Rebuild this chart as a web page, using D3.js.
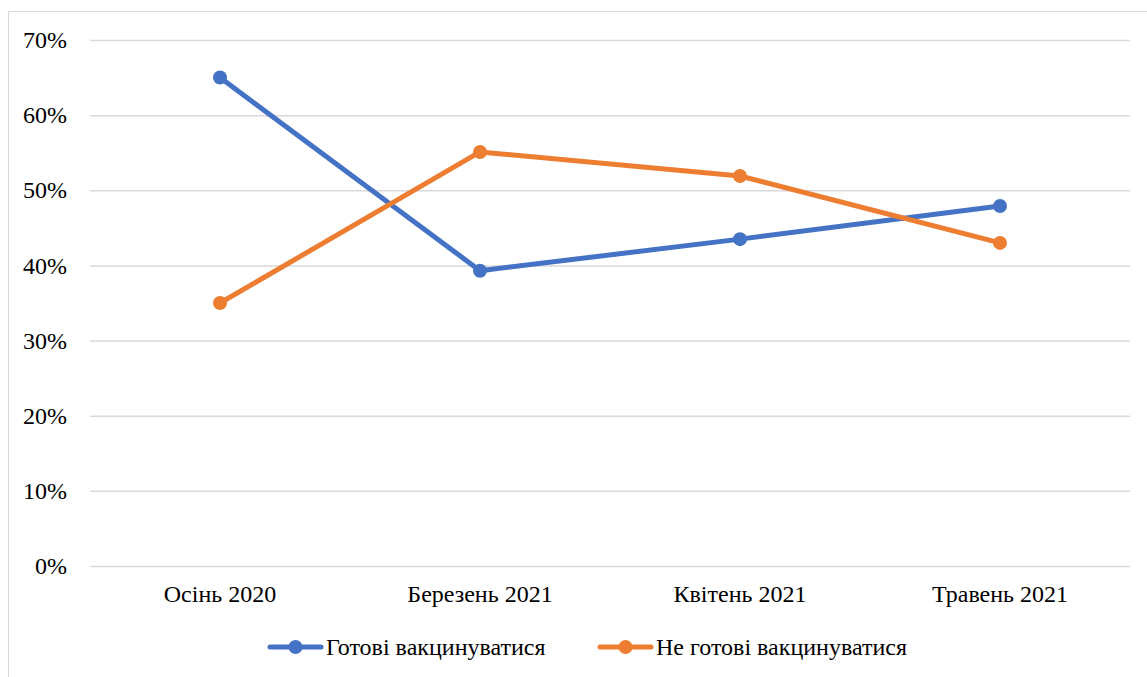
<!DOCTYPE html>
<html><head><meta charset="utf-8">
<script src="https://cdn.jsdelivr.net/npm/d3@7"></script>
<style>body{margin:0;background:#fff}svg{display:block}
svg text{font-family:"Liberation Serif","Times New Roman","DejaVu Serif",serif;fill:#000}</style>
</head><body>
<svg id="c" width="1147" height="677"></svg>
<script>
const categories = ["Осінь 2020", "Березень 2021", "Квітень 2021", "Травень 2021"];
const seriesNames = ["Готові вакцинуватися", "Не готові вакцинуватися"];
const ready = [0.65, 0.393, 0.435, 0.479];
const notReady = [0.35, 0.551, 0.519, 0.43];
const yTicks = [0, 0.1, 0.2, 0.3, 0.4, 0.5, 0.6, 0.7];
const colors = ["#4472C4", "#ED7D31"];

const svg = d3.select("#c");
const fs = 24;

svg.append("rect").attr("x", 8.5).attr("y", 11.5).attr("width", 1200).attr("height", 700)
  .attr("fill", "#fff").attr("stroke", "#d9d9d9").attr("stroke-width", 1);

const x = d3.scaleBand().domain(categories).range([90, 1130]);
const y = d3.scaleLinear().domain([0, 0.7]).range([566, 40]);

const yAxis = svg.append("g").attr("transform", "translate(90,0)")
  .call(d3.axisLeft(y).tickValues(yTicks).tickFormat(d3.format(".0%")).tickSize(-1040).tickPadding(23));
yAxis.select(".domain").remove();
yAxis.selectAll(".tick line").attr("stroke", "#d9d9d9").attr("stroke-width", 1.5);
yAxis.selectAll(".tick text").style("font-size", fs + "px").attr("fill", null);

const xAxis = svg.append("g").attr("transform", "translate(0,566)")
  .call(d3.axisBottom(x).tickSize(0).tickPadding(19));
xAxis.select(".domain").remove();
xAxis.selectAll(".tick text").style("font-size", fs + "px").attr("fill", null);
xAxis.attr("font-family", null); yAxis.attr("font-family", null);

const cx = d => x(d) + x.bandwidth() / 2;
[ready, notReady].forEach((vals, i) => {
  const data = categories.map((c, j) => ({c, v: vals[j]}));
  svg.append("path").datum(data)
    .attr("d", d3.line().x(d => cx(d.c)).y(d => y(d.v)))
    .attr("fill", "none").attr("stroke", colors[i]).attr("stroke-width", 5)
    .attr("stroke-linejoin", "round").attr("stroke-linecap", "round");
  svg.selectAll(null).data(data).enter().append("circle")
    .attr("cx", d => cx(d.c)).attr("cy", d => y(d.v)).attr("r", 7).attr("fill", colors[i]);
});

const legendX = [268, 598];
seriesNames.forEach((n, i) => {
  const g = svg.append("g").attr("transform", `translate(${legendX[i]},647)`);
  g.append("line").attr("x1", 2).attr("x2", 53).attr("y1", 0).attr("y2", 0)
    .attr("stroke", colors[i]).attr("stroke-width", 5).attr("stroke-linecap", "round");
  g.append("circle").attr("cx", 27.5).attr("cy", 0).attr("r", 7).attr("fill", colors[i]);
  g.append("text").attr("x", 58).attr("y", 8).style("font-size", fs + "px").text(n);
});
</script>
</body></html>
